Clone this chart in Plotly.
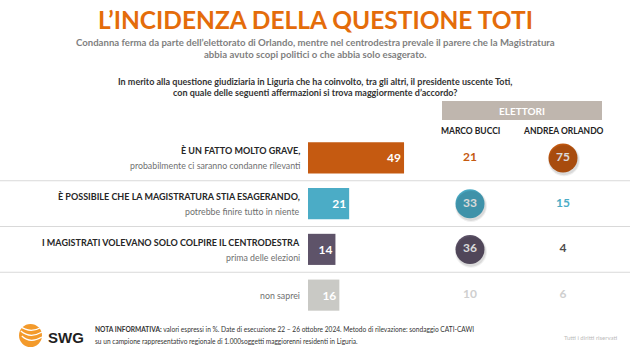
import plotly.graph_objects as go

# ---------------- data ----------------
title_text = "L’INCIDENZA DELLA QUESTIONE TOTI"
subtitle_lines = [
    "Condanna ferma da parte dell’elettorato di Orlando, mentre nel centrodestra prevale il parere che la Magistratura",
    "abbia avuto scopi politici o che abbia solo esagerato.",
]
question_lines = [
    "In merito alla questione giudiziaria in Liguria che ha coinvolto, tra gli altri, il presidente uscente Toti,",
    "con quale delle seguenti affermazioni si trova maggiormente d’accordo?",
]
statements_main = [
    "È UN FATTO MOLTO GRAVE,",
    "È POSSIBILE CHE LA MAGISTRATURA STIA ESAGERANDO,",
    "I MAGISTRATI VOLEVANO SOLO COLPIRE IL CENTRODESTRA",
    "",
]
statements_sub = [
    "probabilmente ci saranno condanne rilevanti",
    "potrebbe finire tutto in niente",
    "prima delle elezioni",
    "non saprei",
]
totale = [49, 21, 14, 16]
columns = ["MARCO BUCCI", "ANDREA ORLANDO"]
bucci = [21, 33, 36, 10]
orlando = [75, 15, 4, 6]
highlight_bucci = [False, True, True, False]
highlight_orlando = [True, False, False, False]
group_header = "ELETTORI"
footer_lines = [
    "<b>NOTA INFORMATIVA:</b> valori espressi in %. Date di esecuzione 22 – 26 ottobre 2024. Metodo di rilevazione: sondaggio CATI-CAWI",
    "su un campione rappresentativo regionale di 1.000soggetti maggiorenni residenti in Liguria.",
]

row_colors = ["#C55A11", "#4BACC6", "#5E5369", "#C9C9C5"]
value_text_colors = ["#C55A11", "#4BACC6", "#4D4D4D", "#CFCFCF"]

FONT = "Lato"
W, H = 630, 354

fig = go.Figure()

# total bars
fig.add_trace(go.Bar(
    x=totale, y=statements_sub, orientation="h",
    marker=dict(color=row_colors, line=dict(width=0)),
    texttemplate="<b>%{x}</b>", textposition="inside", insidetextanchor="end",
    textfont=dict(color="white", size=12, family=FONT), constraintext="none",
    width=0.68, xaxis="x", yaxis="y", hoverinfo="skip", showlegend=False,
))

# column values
for ci, (vals, hl) in enumerate([(bucci, highlight_bucci), (orlando, highlight_orlando)]):
    xs = [columns[ci]] * len(vals)
    # soft shadow
    for sz, op in [(32, 0.06), (30, 0.09)]:
        fig.add_trace(go.Scatter(
            x=[x for x, h in zip(xs, hl) if h],
            y=[y for y, h in zip(statements_sub, hl) if h],
            mode="markers",
            marker=dict(size=sz, color=f"rgba(0,0,0,{op})", line=dict(width=0)),
            xaxis="x3", yaxis="y3", hoverinfo="skip", showlegend=False,
        ))
    fig.add_trace(go.Scatter(
        x=xs, y=statements_sub, mode="markers+text",
        text=[f"<b>{v}</b>" for v in vals],
        textposition="middle center",
        textfont=dict(size=12, family=FONT,
                      color=["white" if h else c for h, c in zip(hl, value_text_colors)]),
        marker=dict(size=[29 if h else 0 for h in hl], color=row_colors,
                    opacity=[1 if h else 0 for h in hl], line=dict(width=0)),
        xaxis="x2", yaxis="y", hoverinfo="skip", showlegend=False,
    ))

y_dom = [1 - 318 / H, 1 - 135 / H]
x2_dom = [423.5 / W, 609.5 / W]
fig.update_layout(
    width=W, height=H, margin=dict(l=0, r=0, t=0, b=0),
    paper_bgcolor="white", plot_bgcolor="rgba(0,0,0,0)",
    font=dict(family=FONT, color="#333333"),
    xaxis=dict(domain=[308 / W, 504 / W], range=[0, 100], visible=False, fixedrange=True),
    yaxis=dict(domain=y_dom, range=[3.5, -0.5], type="category",
               categoryarray=statements_sub, visible=False),
    xaxis2=dict(domain=x2_dom, range=[-0.5, 1.5], type="category",
                categoryarray=columns, visible=False, anchor="y"),
    xaxis3=dict(domain=x2_dom, range=[-0.5 - 1.0 / 93, 1.5 - 1.0 / 93], type="category",
                categoryarray=columns, visible=False, anchor="y3", overlaying="x2"),
    yaxis3=dict(domain=y_dom, range=[3.5 - 0.05, -0.5 - 0.05], type="category",
                categoryarray=statements_sub, visible=False, anchor="x3", overlaying="y"),
    bargap=0.3,
)

shapes = []
# separators
for k in range(len(statements_sub) - 1):
    shapes.append(dict(type="line", xref="paper", yref="y", x0=0, x1=1, y0=k + 0.5, y1=k + 0.5,
                       line=dict(color="#D9D9D9", width=1.2), layer="below"))
# ELETTORI header box
shapes.append(dict(type="rect", xref="paper", yref="paper",
                   x0=442 / W, x1=602 / W, y0=1 - 120 / H, y1=1 - 101 / H,
                   fillcolor="#BFB6AE", line=dict(width=0), layer="below"))
# SWG logo globe
shapes.append(dict(type="circle", xref="paper", yref="paper",
                   x0=19 / W, x1=42 / W, y0=1 - 347 / H, y1=1 - 324 / H,
                   fillcolor="#F39A2B", line=dict(width=0)))
for off in [-6, -1, 4]:
    shapes.append(dict(type="path", xref="paper", yref="paper",
                       path=f"M {(21 + off * 0.2) / W},{1 - (332 + off) / H} Q {30 / W},{1 - (340 + off) / H} {42 / W},{1 - (333 + off) / H}",
                       line=dict(color="white", width=1.2)))
fig.update_layout(shapes=shapes)


def A(text, x, y, size, color, xanchor="center", xref="paper", yref="paper", yshift=0, family=FONT):
    return dict(text=text, x=x, y=y, xref=xref, yref=yref, xanchor=xanchor, yanchor="middle",
                yshift=yshift, showarrow=False, align="left" if xanchor == "left" else "center",
                font=dict(size=size, color=color, family=family))


ann = []
ann.append(A(f"<b>{title_text}</b>", 0.5, 1 - 19 / H, 24.5, "#E46C0A"))
for i, line in enumerate(subtitle_lines):
    ann.append(A(f"<b>{line}</b>", 0.5, 1 - (42 + 12 * i) / H, 9.6, "#7F7F7F"))
for i, line in enumerate(question_lines):
    ann.append(A(f"<b>{line}</b>", 0.5, 1 - (81 + 12 * i) / H, 9.0, "#333333"))
ann.append(A(f"<b>{group_header}</b>", 522 / W, 1 - 110.5 / H, 10, "white"))
for c in columns:
    ann.append(A(f"<b>{c}</b>", c, 1 - 131 / H, 8.5, "#222222", xref="x2"))
for main, sub in zip(statements_main, statements_sub):
    if main:
        ann.append(A(f"<b>{main}</b>", 302 / W, sub, 9.0, "#262626", xanchor="right", yref="y", yshift=7))
        ann.append(A(sub, 302 / W, sub, 8.8, "#6F6F6F", xanchor="right", yref="y", yshift=-8))
    else:
        ann.append(A(sub, 302 / W, sub, 8.8, "#6F6F6F", xanchor="right", yref="y"))
# footer
ann.append(A("<b>SWG</b>", 46 / W, 1 - 337 / H, 15, "#1F1F1F", xanchor="left",
             family="Liberation Sans, Arial"))
for i, line in enumerate(footer_lines):
    ann.append(A(line, 93 / W, 1 - (329 + 12 * i) / H, 6.6, "#333333", xanchor="left"))
ann.append(A("Tutti i diritti riservati", 590 / W, 1 - 337 / H, 6, "#BBBBBB"))
fig.update_layout(annotations=ann)

fig.write_html("out.html")
